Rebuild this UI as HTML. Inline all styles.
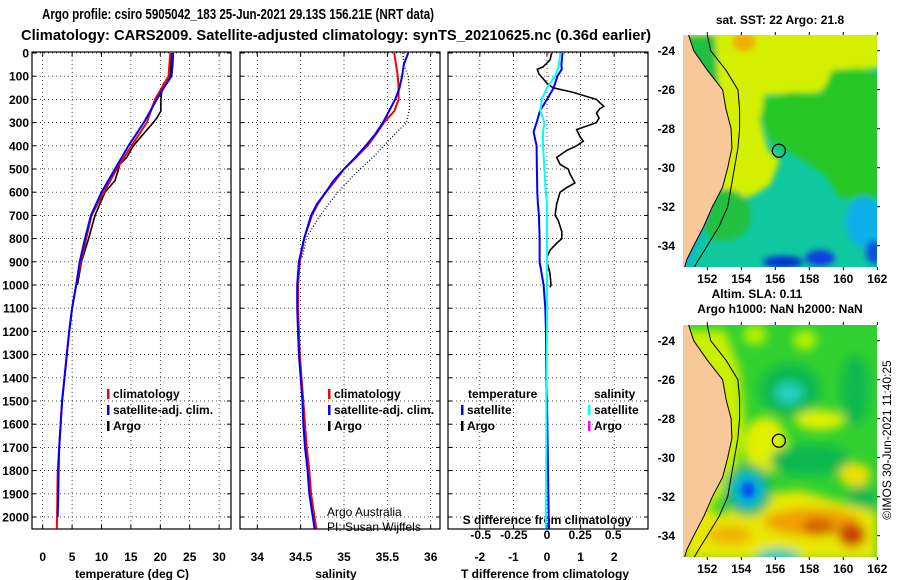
<!DOCTYPE html>
<html><head><meta charset="utf-8"><style>
html,body{margin:0;padding:0;background:#fff;}
svg{display:block;font-family:"Liberation Sans",Arial,sans-serif;}
.t{font-weight:bold;font-size:12px;fill:#000;}
</style></head><body>
<svg id="chart" width="900" height="580" viewBox="0 0 900 580" xmlns="http://www.w3.org/2000/svg">
<defs>
<filter id="blur" x="-10%" y="-10%" width="120%" height="120%"><feGaussianBlur stdDeviation="5"/></filter>
<filter id="blur2" x="-10%" y="-10%" width="120%" height="120%"><feGaussianBlur stdDeviation="3"/></filter>
<clipPath id="clipTop"><rect x="683" y="35" width="194" height="232"/></clipPath>
<clipPath id="clipBot"><rect x="683" y="325" width="194" height="232"/></clipPath>
</defs>
<text x="238" y="19" text-anchor="middle" font-size="15" font-weight="bold" textLength="392" lengthAdjust="spacingAndGlyphs">Argo profile: csiro 5905042_183 25-Jun-2021 29.13S 156.21E (NRT data)</text>
<text x="336" y="40" text-anchor="middle" font-size="15" font-weight="bold" textLength="630" lengthAdjust="spacingAndGlyphs">Climatology: CARS2009. Satellite-adjusted climatology: synTS_20210625.nc (0.36d earlier)</text>

<!-- top SST map -->
<g clip-path="url(#clipTop)">
<rect x="683" y="35" width="194" height="232" fill="#10c8a0"/>
<g filter="url(#blur2)">
<polygon points="683,30 880,30 880,68 840,70 820,92 765,95 760,120 768,150 780,160 770,185 752,196 730,200 683,200" fill="#d4f000"/>
<polygon points="763,100 790,92 822,93 832,70 860,68 880,75 880,200 840,198 825,175 795,155 785,150 770,140 762,120" fill="#28c828"/>
<polygon points="683,35 715,35 718,80 722,130 720,170 683,170" fill="#20c040"/>
<ellipse cx="725" cy="215" rx="26" ry="26" fill="#20c040"/>
<ellipse cx="744" cy="42" rx="12" ry="10" fill="#f0b000"/>
<ellipse cx="864" cy="222" rx="18" ry="26" fill="#10b0e8"/>
<ellipse cx="783" cy="262" rx="20" ry="6" fill="#0030d0"/>
<ellipse cx="820" cy="258" rx="15" ry="8" fill="#1040e0"/>
<ellipse cx="874" cy="252" rx="8" ry="12" fill="#1050e0"/>
<polygon points="712,200 700,235 690,262 683,270 683,220" fill="#10a8f0"/>
</g>
<polygon id="landTop" fill="#f8c898" points=""/>
<polyline id="coastTop" fill="none" stroke="#000" stroke-width="1" points=""/>
<polyline id="shelfTop" fill="none" stroke="#000" stroke-width="1" points=""/>
<circle id="floatTop" r="6.5" fill="none" stroke="#000" stroke-width="1.3"/>
</g>

<!-- bottom SLA map -->
<g clip-path="url(#clipBot)">
<rect x="683" y="325" width="194" height="232" fill="#30d030"/>
<g filter="url(#blur)">
<polygon points="683,330 725,330 740,370 745,420 735,480 700,520 683,520" fill="#c8f000"/>
<ellipse cx="755" cy="335" rx="12" ry="10" fill="#b8f000"/>
<ellipse cx="805" cy="340" rx="12" ry="10" fill="#b8f000"/>
<ellipse cx="790" cy="390" rx="30" ry="26" fill="#10b850"/>
<ellipse cx="789" cy="393" rx="14" ry="11" fill="#20d0c0"/>
<ellipse cx="855" cy="390" rx="14" ry="35" fill="#10b850"/>
<ellipse cx="765" cy="445" rx="22" ry="28" fill="#e0f000"/>
<ellipse cx="820" cy="420" rx="25" ry="10" fill="#e0f000"/>
<ellipse cx="810" cy="460" rx="40" ry="16" fill="#10b850"/>
<ellipse cx="855" cy="475" rx="16" ry="12" fill="#f0e000"/>
<ellipse cx="862" cy="500" rx="14" ry="14" fill="#10b850"/>
<polygon points="683,500 720,515 760,495 800,490 850,505 877,512 877,560 683,560" fill="#e8e800"/>
<ellipse cx="748" cy="490" rx="24" ry="26" fill="#10b060"/>
<ellipse cx="748" cy="490" rx="16" ry="18" fill="#10c8d0"/>
<ellipse cx="748" cy="490" rx="9" ry="11" fill="#0060f0"/>
<ellipse cx="812" cy="522" rx="48" ry="14" fill="#f0a000"/>
<ellipse cx="730" cy="535" rx="22" ry="9" fill="#f0b000"/>
<ellipse cx="818" cy="527" rx="16" ry="9" fill="#d06000"/>
<ellipse cx="852" cy="535" rx="14" ry="12" fill="#c84000"/>
<ellipse cx="778" cy="557" rx="22" ry="8" fill="#20c8c0"/>
</g>
<ellipse cx="748" cy="490" rx="5" ry="6" fill="#0050e8" filter="url(#blur2)"/>
<polygon id="landBot" fill="#f8c898" points=""/>
<polyline id="coastBot" fill="none" stroke="#000" stroke-width="1" points=""/>
<polyline id="shelfBot" fill="none" stroke="#000" stroke-width="1" points=""/>
<circle id="floatBot" r="6.5" fill="none" stroke="#000" stroke-width="1.3"/>
</g>

<text x="780" y="24" text-anchor="middle" class="t">sat. SST: 22 Argo: 21.8</text>
<text x="757" y="298" text-anchor="middle" class="t">Altim. SLA: 0.11</text>
<text x="780" y="313" text-anchor="middle" class="t">Argo h1000: NaN h2000: NaN</text>
<text transform="translate(891,440) rotate(-90)" text-anchor="middle" font-size="12">©IMOS 30-Jun-2021 11:40:25</text>
<text x="327" y="516" font-size="12">Argo Australia</text>
<text x="327" y="531" font-size="12">PI: Susan Wijffels</text>
<g id="dyn"></g>
</svg>
<script>
// ---- data (depth in dbar) ----
const depthTicks = [0,100,200,300,400,500,600,700,800,900,1000,1100,1200,1300,1400,1500,1600,1700,1800,1900,2000];
const tempTicks = [0,5,10,15,20,25,30];
const salTicks = [34,34.5,35,35.5,36];
const salTickLabels = ["34","34.5","35","35.5","36"];
const tdiffTicks = [-2,-1,0,1,2];
const sdiffTicks = [-0.5,-0.25,0,0.25,0.5];
const sdiffTickLabels = ["-0.5","-0.25","0","0.25","0.5"];

const climDepth = [0,100,200,300,400,500,600,700,800,900,1000,1100,1200,1300,1400,1500,1600,1700,1800,1900,2000,2050];
const climTemp = [21.7,21.4,19.1,17.7,15.1,12.6,10.4,8.3,7.4,6.5,5.7,5.0,4.5,4.1,3.7,3.3,3.05,2.8,2.55,2.5,2.45,2.4];
const satDepth = [0,50,100,150,200,300,400,500,600,700,800,900,1000,1100,1200,1300,1400,1500,1600,1700,1800,1900,2000];
const satTemp = [22.2,22.1,21.9,20.6,19.4,17.2,14.6,12.3,10.0,8.2,7.2,6.3,5.7,5.0,4.5,4.1,3.7,3.3,3.06,2.8,2.7,2.65,2.55];
const argoDepth = [0,100,130,150,200,250,280,300,350,400,450,480,500,550,600,700,800,900,1000];
const argoTemp = [21.9,21.7,20.6,20.3,20.1,20.1,19.4,18.8,17.1,15.4,14.3,13.1,12.9,12.3,10.6,8.9,7.8,6.6,5.9];

const salDepth = [0,50,100,150,200,250,300,350,400,450,500,550,600,650,700,800,900,1000,1100,1200,1300,1400,1500,1600,1700,1800,1900,2000,2050];
const satSal = [35.74,35.69,35.67,35.64,35.59,35.52,35.45,35.36,35.25,35.13,35.0,34.88,34.79,34.69,34.62,34.54,34.48,34.46,34.46,34.47,34.48,34.5,34.52,34.53,34.55,34.58,34.6,34.64,34.66];
const climSal = [35.58,35.6,35.62,35.63,35.63,35.58,35.46,35.37,35.27,35.14,35.0,34.9,34.79,34.7,34.63,34.54,34.49,34.47,34.47,34.48,34.49,34.51,34.53,34.55,34.57,34.6,34.62,34.66,34.68];
const argoSalDepth = [0,50,100,200,250,300,375,440,520,600,692,793,880];
const argoSal = [35.68,35.69,35.74,35.76,35.75,35.72,35.52,35.36,35.13,34.93,34.74,34.57,34.52];

const tdDepth = [0,50,70,100,150,200,250,300,340,400,500,600,650,700,800,900,1000,1100,1200,1400,1500,1700,2000,2050];
const tdSat = [0.46,0.43,0.44,0.31,0.2,0.0,-0.21,-0.31,-0.4,-0.31,-0.3,-0.29,-0.27,-0.24,-0.22,-0.22,-0.1,-0.05,-0.03,-0.03,0.0,0.02,0.05,0.06];
const sdSat = [0.1,0.09,0.08,0.06,0.0,-0.04,-0.05,-0.02,-0.03,-0.03,-0.02,-0.01,0.0,0.0,0.0,0.0,0.0,0.0,0.0,-0.005,-0.005,-0.005,-0.01,-0.01];
const tdArgoDepth = [0,30,60,70,90,130,150,170,200,230,240,260,280,300,320,330,360,380,400,420,450,480,500,520,560,580,600,650,700,720,770,800,820,850,880,900,950,1000,1010];
const tdArgo = [0.14,0.09,-0.12,-0.29,-0.24,0,0.18,0.78,1.47,1.69,1.57,1.47,1.55,1.47,1.08,0.88,0.98,1.08,0.88,0.59,0.29,0.39,0.63,0.68,0.83,0.59,0.39,0.29,0.24,0.33,0.44,0.44,0.29,0.09,0.0,0.0,0.09,0.12,0.09];

// ---- axes ----
const TOP=52, BOT=529, D2000=517;
function yD(d){ return TOP+1 + d*(D2000-TOP-1)/2000; }
function xT(t){ return 42.7 + t*5.88; }
function xS(s){ return 257.3 + (s-34)*86.7; }
function xTD(v){ return 547 + v*33.6; }
function xSD(v){ return 547 + v*132.5; }
const panels=[[32,231],[240,440],[448,648]];
const NS="http://www.w3.org/2000/svg";
const g=document.getElementById('dyn');
function mk(tag,attrs,parent){ const e=document.createElementNS(NS,tag); for(const k in attrs) e.setAttribute(k,attrs[k]); (parent||g).appendChild(e); return e; }
function txt(x,y,s,anchor,cls){ const e=mk('text',{x:x,y:y,'text-anchor':anchor||'middle','class':cls||'t'}); e.textContent=s; return e; }

depthTicks.forEach(d=>{
  const t=txt(29,yD(d)+4.5,String(d),'end');
  
  
});
function vgrid(p,xs){ xs.forEach(x=>{ const l=mk('line',{x1:x,x2:x,y1:TOP,y2:BOT,stroke:'#000','stroke-width':0.7,'stroke-dasharray':'1,3'});  
  mk('line',{x1:x,x2:x,y1:TOP,y2:TOP+4,stroke:'#000'}); mk('line',{x1:x,x2:x,y1:BOT,y2:BOT-4,stroke:'#000'}); }); }
panels.forEach((p,i)=>{
  depthTicks.forEach(d=>{ const y=yD(d); const l=mk('line',{x1:p[0],x2:p[1],y1:y,y2:y,stroke:'#000','stroke-width':0.7,'stroke-dasharray':'1,3'});  
    mk('line',{x1:p[0],x2:p[0]+4,y1:y,y2:y,stroke:'#000'}); mk('line',{x1:p[1],x2:p[1]-4,y1:y,y2:y,stroke:'#000'}); });
  const r=mk('rect',{x:p[0],y:TOP,width:p[1]-p[0],height:BOT-TOP,fill:'none',stroke:'#000','stroke-width':1.2});
  
  
});
vgrid(0,tempTicks.map(xT));
vgrid(1,salTicks.map(xS));
vgrid(2,tdiffTicks.map(xTD));
tempTicks.forEach(t=>{ const e=txt(xT(t),561,String(t));   });
salTicks.forEach((s,i)=>{ const e=txt(xS(s),561,salTickLabels[i]);   });
tdiffTicks.forEach(v=>{ const e=txt(xTD(v),561,String(v));   });
sdiffTicks.forEach((v,i)=>{ const e=txt(xSD(v),539,sdiffTickLabels[i]);   });
let e;
e=txt(132,578,'temperature (deg C)');  
e=txt(336,578,'salinity');  
e=txt(545,578,'T difference from climatology');  
e=txt(547,524,'S difference from climatology');  

function line(ds,vs,xf,color,w,dash,name){
  const pts=ds.map((d,i)=>xf(vs[i]).toFixed(1)+','+yD(d).toFixed(1)).join(' ');
  const a={points:pts,fill:'none',stroke:color,'stroke-width':w,'stroke-linejoin':'miter'};
  if(dash) a['stroke-dasharray']=dash;
  const p=mk('polyline',a);
  
  
}
line(argoDepth,argoTemp,xT,'#000',1.6,null,'argo-temperature-line');
line(climDepth,climTemp,xT,'#ff0000',2,null,'climatology-temperature-line');
line(satDepth,satTemp,xT,'#0000ff',2,null,'satellite-temperature-line');
line(argoSalDepth,argoSal,xS,'#000',1.2,'1,2','argo-salinity-line');
line(salDepth,climSal,xS,'#ff0000',2,null,'climatology-salinity-line');
line(salDepth,satSal,xS,'#0000ff',2,null,'satellite-salinity-line');
line(tdArgoDepth,tdArgo,xTD,'#000',1.6,null,'argo-t-difference-line');
line(tdDepth,tdSat,xTD,'#0000ff',2,null,'satellite-t-difference-line');
line(tdDepth,sdSat,xSD,'#00ffff',2,null,'satellite-s-difference-line');

function leg(x,y,color,label,name){
  const b=mk('rect',{x:x,y:y-9,width:2.5,height:10,fill:color});
  
  
  const t=txt(x+6,y,label,'start');
  
  
}
leg(107,398,'#ff0000','climatology','legend-climatology');
leg(107,414,'#0000ff','satellite-adj. clim.','legend-satellite-adj');
leg(107,430,'#000','Argo','legend-argo');
leg(328,398,'#ff0000','climatology','legend-climatology-salinity');
leg(328,414,'#0000ff','satellite-adj. clim.','legend-satellite-adj-salinity');
leg(328,430,'#000','Argo','legend-argo-salinity');
e=txt(468,398,'temperature','start');  
e=txt(594,398,'salinity','start');  
leg(461,414,'#0000ff','satellite','legend-t-satellite');
leg(461,430,'#000','Argo','legend-t-argo');
leg(588,414,'#00ffff','satellite','legend-s-satellite');
leg(588,430,'#ff00ff','Argo','legend-s-argo');

// ---- maps ----
const coastLon=[150.9,151.2,152.0,152.9,153.1,153.4,153.45,153.2,152.9,152.3,151.8,151.2,150.8,150.6];
const coastLat=[-23.2,-24,-25,-26,-27,-28,-29,-30,-31,-32,-33,-34,-34.7,-35.3];
const shelfLon=[152.0,152.2,153.1,153.8,153.9,153.9,153.8,153.6,153.4,153.2,152.7,152.0,151.5,151.1];
const mapLonTicks=[152,154,156,158,160,162];
const mapLatTicks=[-24,-26,-28,-30,-32,-34];
const floatLon=156.21, floatLat=-29.13;
function mx(lon){ return 707.3+(lon-152)*17; }
function myT(lat){ return 50.7+(-24-lat)*19.5; }
function myB(lat){ return 340.7+(-24-lat)*19.5; }
function drawMap(my,pre,top,bot){
  const c=coastLon.map((l,i)=>mx(l).toFixed(1)+','+my(coastLat[i]).toFixed(1));
  const land=document.getElementById('land'+pre);
  land.setAttribute('points',c.join(' ')+' 680,'+my(-35.3)+' 680,'+my(-23));
  
  
  document.getElementById('coast'+pre).setAttribute('points',c.join(' '));
  const s=shelfLon.map((l,i)=>mx(l).toFixed(1)+','+my(coastLat[i]).toFixed(1));
  const sh=document.getElementById('shelf'+pre);
  sh.setAttribute('points',s.join(' '));
  
  
  const f=document.getElementById('float'+pre);
  f.setAttribute('cx',mx(floatLon)); f.setAttribute('cy',my(floatLat));
  mapLonTicks.forEach(l=>{ const t=txt(mx(l),bot+16,String(l));  
    mk('line',{x1:mx(l),x2:mx(l),y1:top,y2:top-3,stroke:'#000'}); mk('line',{x1:mx(l),x2:mx(l),y1:bot,y2:bot+3,stroke:'#000'}); });
  mapLatTicks.forEach(l=>{ const t=txt(675,my(l)+4.5,String(l),'end');  
    mk('line',{x1:877,x2:880,y1:my(l),y2:my(l),stroke:'#000'}); });
}
drawMap(myT,'Top',35,267);
drawMap(myB,'Bot',325,557);
</script>
</body></html>
